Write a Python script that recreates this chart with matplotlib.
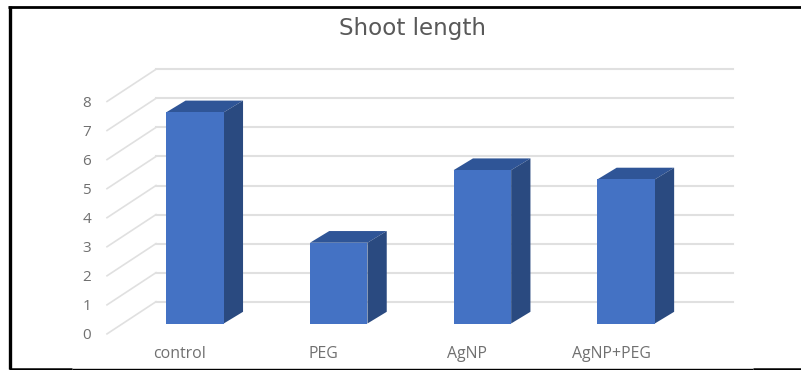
import matplotlib
matplotlib.use("Agg")
import matplotlib.pyplot as plt
from matplotlib.lines import Line2D
from matplotlib.patches import Polygon

# Data
categories = ["control", "PEG", "AgNP", "AgNP+PEG"]
shoot_length = [7.27, 2.78, 5.28, 4.96]
y_ticks = [0, 1, 2, 3, 4, 5, 6, 7, 8]

W, H = 801, 370
PX_X = 143.7   # pixels per category
PX_Y = 29.05   # pixels per unit of value
X0, Y0 = 195.0, 323.5   # where category 0 / value 0 of the bar fronts sit

fig = plt.figure(figsize=(W / 100, H / 100), dpi=100, facecolor="white")
ax = fig.add_axes([0, 0, 1, 1])
ax.set_xlim(-X0 / PX_X, (W - X0) / PX_X)
ax.set_ylim(-(H - Y0) / PX_Y, Y0 / PX_Y)
ax.axis("off")

bar_w = 0.40
depth_x = 19.3 / PX_X   # 3d offset of the bars
depth_y = 11.7 / PX_Y

# back wall and side wall gridlines
wall_left, wall_right = (156 - X0) / PX_X, (733 - X0) / PX_X
wall_front = (107 - X0) / PX_X
back_shift = 21.8 / PX_Y
front_shift = -10.4 / PX_Y
grid_c = "#e0e0e0"
for t in y_ticks:
    ax.plot([wall_left, wall_right], [t + back_shift] * 2, color=grid_c, lw=1.5, zorder=1)
    ax.plot([wall_front, wall_left], [t + front_shift, t + back_shift], color=grid_c, lw=1.2, zorder=1)
    ax.text((86.7 - X0) / PX_X, t + front_shift - 0.06, str(t), ha="center", va="center",
            fontsize=11, color="#707070", family="Open Sans")

# bars
for i, v in enumerate(shoot_length):
    l, r = i - bar_w / 2, i + bar_w / 2
    top = Polygon([(l, v), (l + depth_x, v + depth_y), (r + depth_x, v + depth_y), (r, v)],
                  facecolor="#2f5597", edgecolor="none", zorder=3)
    side = Polygon([(r, 0), (r + depth_x, depth_y), (r + depth_x, v + depth_y), (r, v)],
                   facecolor="#2a4a80", edgecolor="none", zorder=3)
    ax.add_patch(top)
    ax.add_patch(side)
ax.bar(range(len(categories)), shoot_length, width=bar_w, color="#4472c4", zorder=4)

# category labels sit left of the bars, as in the original
for i, c in enumerate(categories):
    ax.text(i - 15 / PX_X, -30.5 / PX_Y, c, ha="center", va="center",
            fontsize=11.4, color="#707070", family="Open Sans")

fig.text(412.5 / W, 1 - 28.5 / H, "Shoot length", ha="center", va="center",
         fontsize=16.6, color="#595959", family="DejaVu Sans")

# black frame from the paper figure
frame = [
    ([8, 801], [7, 7], 2.0),
    ([9.7, 9.7], [6, 369], 2.4),
    ([9, 72], [368.8, 368.8], 1.8),
    ([72, 753], [368.9, 368.9], 1.0),
    ([753, 801], [368.8, 368.8], 1.8),
]
for xs, ys, lw in frame:
    fig.add_artist(Line2D([x / W for x in xs], [1 - y / H for y in ys],
                          color="black", lw=lw, solid_capstyle="butt"))

plt.savefig("out.png", dpi=100)
